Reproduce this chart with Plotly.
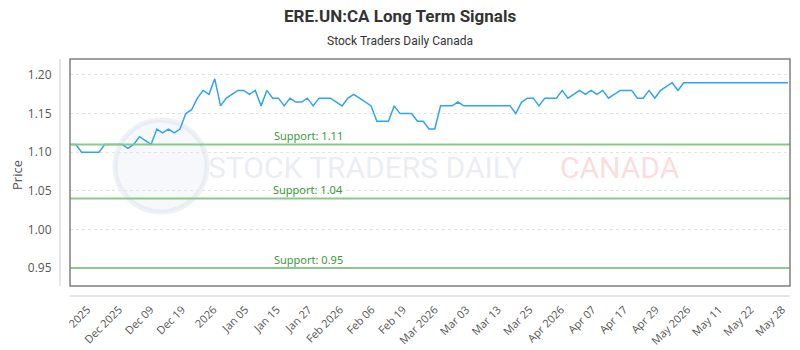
import plotly.graph_objects as go
import numpy as np

# ---- data ----
prices = [
    1.11, 1.11, 1.10, 1.10, 1.10, 1.10, 1.11, 1.11, 1.11, 1.11,
    1.105, 1.11, 1.12, 1.115, 1.11, 1.13, 1.125, 1.13, 1.125, 1.13,
    1.15, 1.155, 1.17, 1.18, 1.175, 1.195, 1.16, 1.17, 1.175, 1.18,
    1.18, 1.175, 1.18, 1.16, 1.18, 1.17, 1.17, 1.16, 1.17, 1.165,
    1.165, 1.17,
    1.16, 1.17, 1.17, 1.17, 1.165, 1.16, 1.17, 1.175, 1.17, 1.165,
    1.16, 1.14, 1.14, 1.14, 1.16, 1.15, 1.15, 1.15, 1.14, 1.14,
    1.13, 1.13, 1.16, 1.16, 1.16, 1.165, 1.16, 1.16, 1.16, 1.16,
    1.16, 1.16, 1.16, 1.16, 1.16, 1.15, 1.165, 1.17, 1.17, 1.16,
    1.17, 1.17, 1.17, 1.18, 1.17, 1.175, 1.18, 1.175, 1.18, 1.175,
    1.18, 1.17, 1.175, 1.18, 1.18, 1.18, 1.17, 1.17, 1.18, 1.17,
    1.18, 1.185, 1.19, 1.18, 1.19,
    1.19, 1.19, 1.19, 1.19, 1.19, 1.19, 1.19, 1.19, 1.19,
    1.19, 1.19, 1.19, 1.19, 1.19, 1.19, 1.19, 1.19, 1.19,
]
tick_labels = ["2025", "Dec 2025", "Dec 09", "Dec 19", "2026", "Jan 05", "Jan 15",
               "Jan 27", "Feb 2026", "Feb 06", "Feb 19", "Mar 2026", "Mar 03",
               "Mar 13", "Mar 25", "Apr 2026", "Apr 07", "Apr 17", "Apr 29",
               "May 2026", "May 11", "May 22", "May 28"]
support_levels = [1.11, 1.04, 0.95]
support_labels = ["Support: 1.11", "Support: 1.04", "Support: 0.95"]
y_ticks = [0.95, 1.00, 1.05, 1.10, 1.15, 1.20]

x = list(range(len(prices)))
tickvals = list(np.linspace(3, len(prices) - 2, len(tick_labels)))

fig = go.Figure()
fig.add_trace(go.Scatter(x=x, y=prices, mode="lines",
                         line=dict(color="#2fa4f0", width=1.5),
                         hoverinfo="skip", showlegend=False))

shapes = []
annotations = []

# watermark
shapes.append(dict(type="circle", xref="paper", yref="paper",
                   x0=(115 - 70) / 720, x1=(207 - 70) / 720,
                   y0=(286 - 212) / 227, y1=(286 - 120) / 227,
                   line=dict(color="rgba(200,210,225,0.3)", width=5),
                   fillcolor="rgba(225,232,242,0.3)", layer="below"))
annotations.append(dict(text="STOCK TRADERS DAILY", xref="paper", yref="paper",
                        x=(365 - 70) / 720, y=(286 - 167) / 227, showarrow=False,
                        font=dict(family="Roboto", size=30, color="rgba(215,220,228,0.5)"),
                        xanchor="center", yanchor="middle"))
annotations.append(dict(text="CANADA", xref="paper", yref="paper",
                        x=(620 - 70) / 720, y=(286 - 167) / 227, showarrow=False,
                        font=dict(family="Roboto", size=30, color="rgba(245,190,190,0.5)"),
                        xanchor="center", yanchor="middle"))

# support lines
for lvl, lab in zip(support_levels, support_labels):
    shapes.append(dict(type="line", xref="paper", yref="y", x0=0, x1=1, y0=lvl, y1=lvl,
                       line=dict(color="rgb(140,200,140)", width=2)))
    annotations.append(dict(text=lab, xref="paper", yref="y", x=(308 - 70) / 720, y=lvl,
                            yshift=9, showarrow=False, xanchor="center", yanchor="middle",
                            font=dict(family="Noto Sans", size=11, color="#3a9a3a")))

# plot frame and offset axis lines
shapes.append(dict(type="rect", xref="paper", yref="paper", x0=0, x1=1, y0=0, y1=1,
                   line=dict(color="#808080", width=1.5)))
shapes.append(dict(type="line", xref="paper", yref="paper", x0=-10 / 720, x1=-10 / 720,
                   y0=0, y1=1, line=dict(color="#cccccc", width=1)))
shapes.append(dict(type="line", xref="paper", yref="paper", x0=0, x1=1,
                   y0=-10 / 227, y1=-10 / 227, line=dict(color="#cccccc", width=1)))

# titles
annotations.append(dict(text="<b>ERE.UN:CA Long Term Signals</b>", xref="paper", yref="paper",
                        x=(400 - 70) / 720, y=1 + (59 - 16) / 227, showarrow=False,
                        xanchor="center", yanchor="middle",
                        font=dict(family="Liberation Sans Narrow, Roboto", size=17, color="#333333")))
annotations.append(dict(text="Stock Traders Daily Canada", xref="paper", yref="paper",
                        x=(400 - 70) / 720, y=1 + (59 - 41) / 227, showarrow=False,
                        xanchor="center", yanchor="middle",
                        font=dict(family="Liberation Sans Narrow, Roboto", size=12, color="#333333")))
annotations.append(dict(text="Price", xref="paper", yref="paper",
                        x=(17 - 70) / 720, y=(286 - 175) / 227, showarrow=False,
                        textangle=-90, xanchor="center", yanchor="middle",
                        font=dict(family="Open Sans", size=13, color="#555555")))

fig.update_layout(
    width=800, height=350,
    margin=dict(l=70, r=10, t=59, b=64, autoexpand=False),
    paper_bgcolor="white", plot_bgcolor="white",
    shapes=shapes, annotations=annotations,
    xaxis=dict(range=[0, len(prices) - 1 + 0.35], tickmode="array",
               tickvals=tickvals, ticktext=tick_labels, tickangle=-45,
               showgrid=False, zeroline=False, showline=False, automargin=False,
               ticks="outside", ticklen=12, tickcolor="rgba(0,0,0,0)",
               tickfont=dict(family="Open Sans", size=11, color="#555555")),
    yaxis=dict(range=[0.9267, 1.2207], tickmode="array", tickvals=y_ticks,
               ticktext=[f"{v:.2f}" for v in y_ticks], automargin=False,
               showgrid=True, gridcolor="#e3e3e3", griddash="dot", gridwidth=1,
               zeroline=False, showline=False,
               ticks="outside", ticklen=15, tickcolor="rgba(0,0,0,0)",
               tickfont=dict(family="Open Sans", size=12, color="#555555")),
)

fig.write_html("out.html")
